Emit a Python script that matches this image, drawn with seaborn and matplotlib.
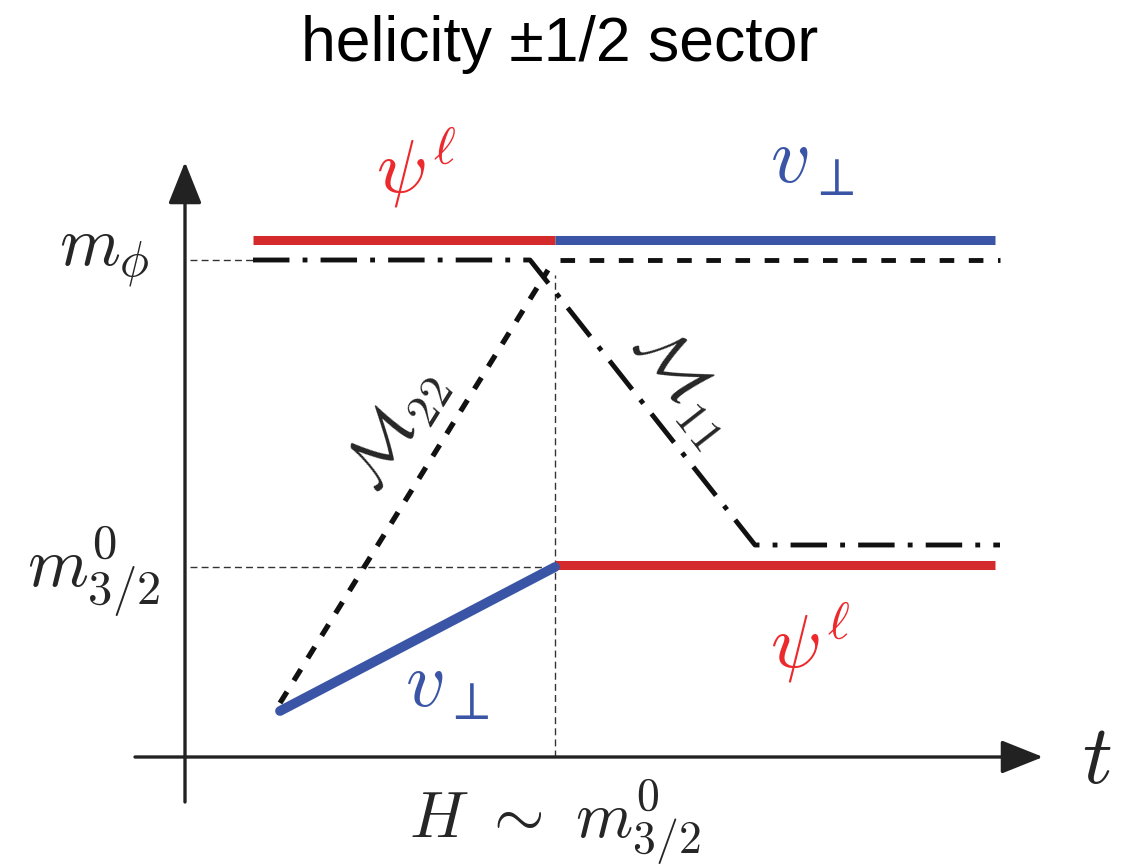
import matplotlib
matplotlib.use("Agg")
import matplotlib.pyplot as plt
import seaborn as sns
import numpy as np

sns.set_theme(style="white")
plt.rcParams['font.family'] = ['Liberation Sans', 'DejaVu Sans']
plt.rcParams['mathtext.fontset'] = 'cm'

# ---- schematic data (x = time, y = mass; canvas units) ----
t_axis_y = 868 - 757
m_phi = 868 - 260
m_32 = 868 - 567
t_H = 555

top_red_t = [253, 555]
top_red_m = [868 - 240, 868 - 240]
top_blue_t = [555, 995]
top_blue_m = [868 - 240, 868 - 240]

M11_t = [253, 530, 755, 1000]
M11_m = [m_phi, m_phi, 868 - 545, 868 - 545]

M22_t = [280, 548]
M22_m = [868 - 703, 868 - 270]
M22_flat_t = [560, 1000]
M22_flat_m = [m_phi, m_phi]

low_blue_t = [280, 555]
low_blue_m = [868 - 711, m_32]
low_red_t = [555, 995]
low_red_m = [868 - 565, 868 - 565]

red = "#d42a2c"
blue = "#3a55a6"
label_red = "#ec2a2e"

fig = plt.figure(figsize=(11.32, 8.68), dpi=100)
ax = fig.add_axes([0, 0, 1, 1])
ax.set_xlim(0, 1132)
ax.set_ylim(0, 868)
ax.axis("off")

# axes with arrows
arrow = dict(arrowstyle="-|>,head_length=0.65,head_width=0.26", lw=2.4, color="#222222",
             mutation_scale=40, shrinkA=0, shrinkB=0)
ax.annotate("", xy=(185, 868 - 162), xytext=(185, 868 - 802), arrowprops=arrow)
ax.annotate("", xy=(1043, t_axis_y), xytext=(135, t_axis_y), arrowprops=arrow)

# thin guides
guide = dict(color="#333333", lw=1.0, ls=(0, (5, 3)))
ax.plot([190, 253], [m_phi, m_phi], **guide)
ax.plot([190, t_H], [m_32, m_32], **guide)
ax.plot([t_H, t_H], [t_axis_y, m_32], **guide)
ax.plot([t_H, t_H], [m_32, 868 - 275], **guide)

# colored lines
sns.lineplot(x=top_red_t, y=top_red_m, ax=ax, color=red, lw=6.5, sort=False, solid_capstyle="butt")
sns.lineplot(x=top_blue_t, y=top_blue_m, ax=ax, color=blue, lw=6.5, sort=False, solid_capstyle="butt")
sns.lineplot(x=low_red_t, y=low_red_m, ax=ax, color=red, lw=6.5, sort=False, solid_capstyle="butt")
sns.lineplot(x=low_blue_t, y=low_blue_m, ax=ax, color=blue, lw=7.0, sort=False, solid_capstyle="round")

# black mass-matrix elements
l11 = sns.lineplot(x=M11_t, y=M11_m, ax=ax, color="#111111", lw=3.5, sort=False).lines[-1]
l11.set_linestyle((0, (7.5, 2.7, 1, 2.7)))
l22 = sns.lineplot(x=M22_t, y=M22_m, ax=ax, color="#111111", lw=3.8, sort=False).lines[-1]
l22.set_linestyle((0, (2.5, 2.5)))
l22f = sns.lineplot(x=M22_flat_t, y=M22_flat_m, ax=ax, color="#111111", lw=3.5, sort=False).lines[-1]
l22f.set_linestyle((0, (3, 3)))

# labels
ax.text(560, 868 - 44, "helicity ±1/2 sector", ha="center", va="center", fontsize=45, color="black")
ax.text(150, m_phi + 2, r"$m_\phi$", ha="right", va="center", fontsize=50)
ax.text(160, m_32 - 5, r"$m^0_{3/2}$", ha="right", va="center", fontsize=50)
ax.text(1097, t_axis_y - 4, r"$t$", ha="center", va="center", fontsize=60)
ax.text(t_H, 868 - 822, r"$H\ \sim\ m^0_{3/2}$", ha="center", va="center", fontsize=47)
ax.text(416, 868 - 168, r"$\psi^\ell$", ha="center", va="center", fontsize=54, color=label_red)
ax.text(812, 868 - 162, r"$v_\perp$", ha="center", va="center", fontsize=56, color=blue)
ax.text(447, 868 - 686, r"$v_\perp$", ha="center", va="center", fontsize=56, color=blue)
ax.text(810, 868 - 643, r"$\psi^\ell$", ha="center", va="center", fontsize=54, color=label_red)
ax.text(397, 868 - 430, r"$\mathcal{M}_{22}$", ha="center", va="center", fontsize=48, rotation=58)
ax.text(683, 868 - 385, r"$\mathcal{M}_{11}$", ha="center", va="center", fontsize=48, rotation=-52)

fig.savefig("out.png", dpi=100)
